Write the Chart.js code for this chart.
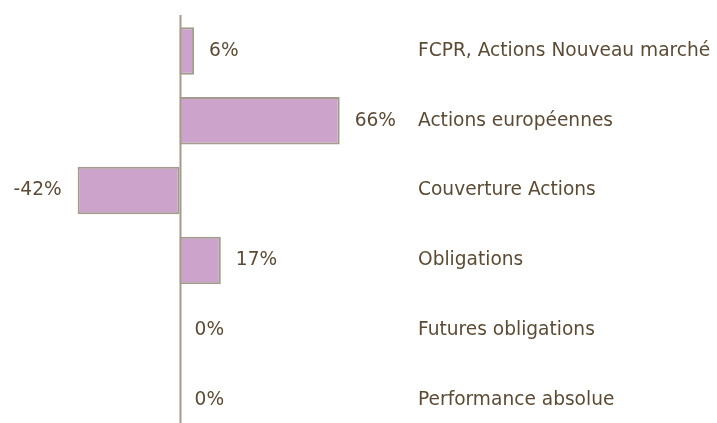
<!DOCTYPE html>
<html>
<head>
<meta charset="utf-8">
<script src="https://cdn.jsdelivr.net/npm/chart.js@4"></script>
<style>
  html, body { margin: 0; padding: 0; background: #fff; overflow: hidden; }
  #wrap { width: 717px; height: 435px; }
</style>
</head>
<body>
<div id="wrap"><canvas id="myChart"></canvas></div>
<script>
// categories and values (percent)
var categories = [
  'FCPR, Actions Nouveau marché',
  'Actions européennes',
  'Couverture Actions',
  'Obligations',
  'Futures obligations',
  'Performance absolue'
];
var values = [6, 66, -42, 17, 0, 0];
var valueLabels = ['6%', '66%', '-42%', '17%', '0%', '0%'];

var textColor = '#5b4b36';
var lineColor = '#a39b8d';
var fontSpec = '18.6px "DejaVu Sans"';

// draws the zero line, the value labels and the category names
var labelsPlugin = {
  id: 'labelsPlugin',
  afterDatasetsDraw: function (chart) {
    var c = chart.ctx;
    var xs = chart.scales.x;
    var area = chart.chartArea;
    var x0 = Math.round(xs.getPixelForValue(0)) + 0.5;

    c.save();
    c.strokeStyle = lineColor;
    c.lineWidth = 2;
    c.beginPath();
    c.moveTo(x0, 15);
    c.lineTo(x0, area.bottom);
    c.stroke();

    c.font = fontSpec;
    c.fillStyle = textColor;
    c.textBaseline = 'middle';
    var meta = chart.getDatasetMeta(0);
    meta.data.forEach(function (bar, i) {
      var v = values[i];
      if (v < 0) {
        c.textAlign = 'right';
        c.fillText(valueLabels[i], bar.x - 16, bar.y);
      } else {
        c.textAlign = 'left';
        c.fillText(valueLabels[i], bar.x + 15, bar.y);
      }
      c.textAlign = 'left';
      c.fillText(categories[i], 418, bar.y);
    });
    c.restore();
  }
};

var ctx = document.getElementById('myChart').getContext('2d');
var myChart = new Chart(ctx, {
  type: 'bar',
  data: {
    labels: categories,
    datasets: [{
      data: values,
      backgroundColor: '#cba3cb',
      borderColor: lineColor,
      borderWidth: 2,
      borderSkipped: false,
      categoryPercentage: 1,
      barPercentage: 0.68
    }]
  },
  options: {
    indexAxis: 'y',
    responsive: true,
    maintainAspectRatio: false,
    animation: false,
    layout: { padding: { top: 16, bottom: 0, left: 0, right: 0 } },
    plugins: {
      legend: { display: false },
      tooltip: { enabled: false }
    },
    scales: {
      x: {
        min: -74.0,
        max: 221.5,
        display: false
      },
      y: {
        display: false
      }
    }
  },
  plugins: [labelsPlugin]
});
</script>
</body>
</html>
